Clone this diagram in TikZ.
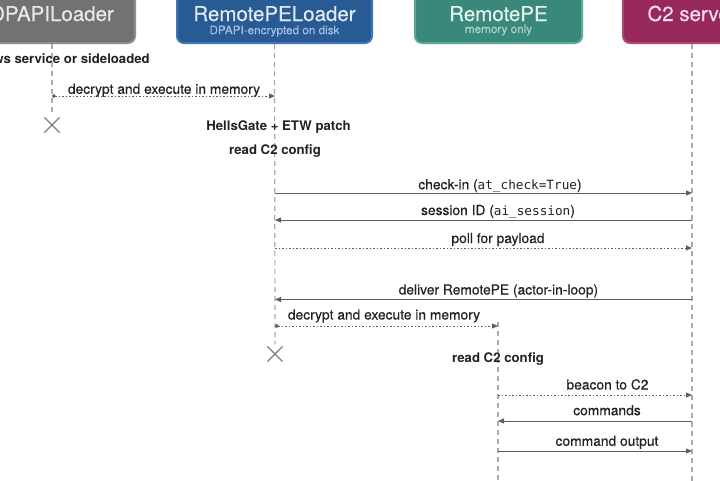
\documentclass[tikz,border=0pt]{standalone}
\usepackage{fontspec}
\setmainfont{TeX Gyre Heros}
\setmonofont[Scale=0.92]{DejaVu Sans Mono}
\newfontfamily\medfont[FakeBold=0.4]{TeX Gyre Heros}
\usetikzlibrary{arrows.meta,shapes.misc}
\definecolor{dpfill}{HTML}{727272}
\definecolor{dpedge}{HTML}{8E8E8E}
\definecolor{dptext}{HTML}{E8E8E8}
\definecolor{rlfill}{HTML}{285A94}
\definecolor{rledge}{HTML}{3E76B8}
\definecolor{rltext}{HTML}{E0E9F4}
\definecolor{rlsub}{HTML}{A3C0E2}
\definecolor{rpfill}{HTML}{3A877C}
\definecolor{rpedge}{HTML}{5EA69B}
\definecolor{rptext}{HTML}{E3F2EF}
\definecolor{rpsub}{HTML}{A8D4CD}
\definecolor{cfill}{HTML}{96285C}
\definecolor{cedge}{HTML}{B0457A}
\definecolor{ctext}{HTML}{F5DCE8}
\definecolor{lifec}{HTML}{ABABAB}
\definecolor{msgc}{HTML}{5F5F5F}
\definecolor{txtc}{HTML}{222222}
\tikzset{
  actorbox/.style={rectangle, rounded corners=7pt, line width=2pt, minimum height=55pt, inner sep=0pt},
  ttl/.style={anchor=base, font=\medfont\fontsize{20.5}{24}\selectfont, inner sep=0pt, text depth=0pt},
  sub/.style={anchor=base, font=\medfont\fontsize{11.7}{13}\selectfont, inner sep=0pt, text height=6.5pt},
  life/.style={draw=lifec, line width=1.2pt, dash pattern=on 5pt off 4pt},
  msg/.style={draw=msgc, line width=1pt, -{Triangle[length=6pt,width=5pt]}},
  async/.style={msg, dash pattern=on 1.6pt off 1.9pt},
  createmsg/.style={async, {Circle[length=3.6pt]}-{Triangle[length=6pt,width=5pt]}},
  lab/.style={anchor=base, text=txtc, font=\medfont\fontsize{13.8}{16}\selectfont, inner sep=0pt},
  note/.style={anchor=base, text=txtc, font=\bfseries\fontsize{13.2}{16}\selectfont, inner sep=0pt},
  xmark/.style={cross out, draw=msgc!80, line width=1.1pt, minimum size=14pt, inner sep=0pt}
}
\begin{document}
\begin{tikzpicture}[x=1pt,y=-1pt]
\useasboundingbox (0,0) rectangle (720,480);
\clip (0,0) rectangle (720,480);
\fill[white] (0,0) rectangle (720,480);

% actor boxes
\node[actorbox, fill=dpfill, draw=dpedge, minimum width=166pt] (dp) at (52,15.5) {};
\node[actorbox, fill=rlfill, draw=rledge, minimum width=195pt] (rl) at (274.5,15.5) {};
\node[actorbox, fill=rpfill, draw=rpedge, minimum width=167pt] (rp) at (498.5,15.5) {};
\node[actorbox, fill=cfill, draw=cedge, minimum width=138pt] (c2) at (692,15.5) {};

\node[ttl, text=dptext] (dpt) at (52,21) {DPAPILoader};
\node[ttl, text=rltext] (rlt) at (274.5,21) {RemotePELoader};
\node[sub, text=rlsub] (rls) at (274.5,34.2) {DPAPI-encrypted on disk};
\node[ttl, text=rptext] (rpt) at (498.5,21) {RemotePE};
\node[sub, text=rpsub] (rps) at (498.5,33) {memory only};
\node[ttl, text=ctext] (c2t) at (692,21) {C2 server};

% lifeline ends
\node[xmark] (dpx) at (52,125) {};
\node[xmark] (rlx) at (275,354) {};
\coordinate (rptop) at (498,322);
\coordinate (rpbot) at (498,482);
\coordinate (c2bot) at (692,482);

\draw[life] (dp.south) -- ([yshift=2pt]dpx.north);
\draw[life] (rl.south) -- ([yshift=2pt]rlx.north);
\draw[life] (rptop) -- (rpbot);
\draw[life] (c2.south) -- (c2bot);

% notes
\node[note, anchor=base east] (n0) at (150,63) {Windows service or sideloaded};
\node[note] (n1) at (278.5,130.7) {HellsGate + ETW patch};
\node[note] (n2) at (275,154.5) {read C2 config};
\node[note] (n3) at (498,362) {read C2 config};

% message anchor points
\coordinate (m1a) at (52,96);   \coordinate (m1b) at (275,96);
\coordinate (m2a) at (275,193); \coordinate (m2b) at (692,193);
\coordinate (m3a) at (692,220); \coordinate (m3b) at (275,220);
\coordinate (m4a) at (275,248); \coordinate (m4b) at (692,248);
\coordinate (m5a) at (692,299.5); \coordinate (m5b) at (275,299.5);
\coordinate (m6a) at (275,326); \coordinate (m6b) at (498,326);
\coordinate (m7a) at (498,395); \coordinate (m7b) at (692,395);
\coordinate (m8a) at (692,421); \coordinate (m8b) at (498,421);
\coordinate (m9a) at (498,451); \coordinate (m9b) at (692,451);

\draw[createmsg] (m1a) -- (m1b);
\draw[msg] (m2a) -- (m2b);
\draw[msg] (m3a) -- (m3b);
\draw[async] (m4a) -- (m4b);
\draw[msg] (m5a) -- (m5b);
\draw[createmsg] (m6a) -- (m6b);
\draw[async] (m7a) -- (m7b);
\draw[msg] (m8a) -- (m8b);
\draw[msg] (m9a) -- (m9b);

% labels
\node[lab] (l1) at (164,93.8) {decrypt and execute in memory};
\node[lab] (l2) at (500,189.3) {check-in (\texttt{at\_check=True})};
\node[lab] (l3) at (498,215) {session ID (\texttt{ai\_session})};
\node[lab] (l4) at (498,243) {poll for payload};
\node[lab] (l5) at (498.4,294.5) {deliver RemotePE (actor-in-loop)};
\node[lab] (l6) at (384,319.5) {decrypt and execute in memory};
\node[lab] (l7) at (607.5,389.5) {beacon to C2};
\node[lab] (l8) at (607,415.2) {commands};
\node[lab] (l9) at (607,445.8) {command output};
\end{tikzpicture}
\end{document}
